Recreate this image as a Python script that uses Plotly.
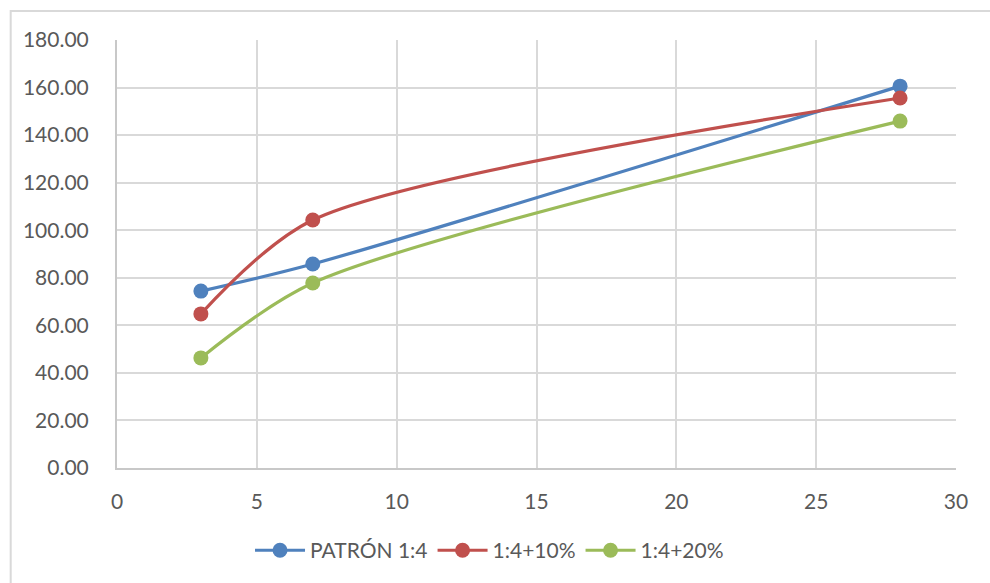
import plotly.graph_objects as go

# Curing age (days) and strength values for each mix
edades = [3, 7, 28]
patron = [74.4, 85.8, 160.6]
mezcla_10 = [64.8, 104.3, 155.6]
mezcla_20 = [46.3, 77.8, 145.9]

series = [
    ("PATRÓN 1:4", patron, "#4f81bd"),
    ("1:4+10%", mezcla_10, "#c0504d"),
    ("1:4+20%", mezcla_20, "#9bbb59"),
]

fig = go.Figure()
for nombre, valores, color in series:
    fig.add_trace(go.Scatter(
        x=edades, y=valores, name=nombre,
        mode="lines+markers",
        line=dict(color=color, width=3.2, shape="spline", smoothing=0.8),
        marker=dict(color=color, size=15),
    ))

font_tick = dict(family="Lato, 'Open Sans', sans-serif", size=21, color="#595959")
font_leg = dict(family="Lato, 'Open Sans', sans-serif", size=21, color="#595959")

fig.update_layout(
    width=990, height=583,
    margin=dict(l=117, r=34, t=40, b=115),
    paper_bgcolor="white", plot_bgcolor="white",
    font=font_tick,
    showlegend=True,
    legend=dict(
        orientation="h", x=0.444, xanchor="center", y=-0.193, yanchor="middle",
        font=font_leg, itemwidth=50, traceorder="normal",
    ),
    xaxis=dict(
        range=[0, 30], dtick=5, tick0=0,
        showgrid=True, gridcolor="#d9d9d9", gridwidth=2,
        showline=True, linecolor="#c8c8c8", linewidth=2,
        zeroline=False, ticks="", ticklabelstandoff=14,
        tickfont=font_tick,
    ),
    yaxis=dict(
        range=[0, 180], dtick=20, tick0=0, tickformat=".2f",
        showgrid=True, gridcolor="#d9d9d9", gridwidth=2,
        showline=True, linecolor="#c8c8c8", linewidth=2,
        zeroline=False, ticks="", ticklabelstandoff=22,
        tickfont=font_tick,
    ),
    shapes=[dict(
        type="rect", xref="paper", yref="paper",
        x0=-0.1267, x1=1.1, y0=-0.3, y1=1.0677,
        line=dict(color="#d9d9d9", width=2), layer="below",
    )],
)

fig.write_html("out.html")
